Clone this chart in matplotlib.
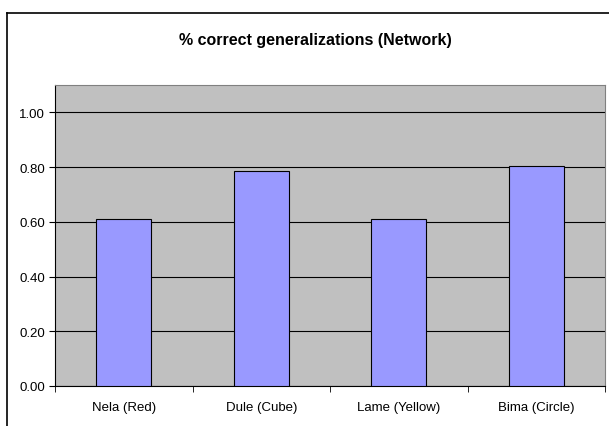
import matplotlib
matplotlib.use("Agg")
import matplotlib.pyplot as plt
from matplotlib.lines import Line2D
import numpy as np

categories = ["Nela (Red)", "Dule (Cube)", "Lame (Yellow)", "Bima (Circle)"]
values = [0.61, 0.787, 0.61, 0.805]
yticks = [0.0, 0.2, 0.4, 0.6, 0.8, 1.0]

plt.rcParams["font.family"] = ["Liberation Sans", "DejaVu Sans"]

W, H = 609, 427
fig = plt.figure(figsize=(W / 100, H / 100), dpi=100)
fig.patch.set_facecolor("white")

# outer chart border (cropped on the right and bottom in the original)
bx, by = 7 / W, 1 - 14 / H
fig.add_artist(Line2D([bx, bx], [0, by], transform=fig.transFigure, color="black", lw=1.2))
fig.add_artist(Line2D([bx, 1], [by, by], transform=fig.transFigure, color="black", lw=1.2))

ax = fig.add_axes([55 / W, 1 - 387 / H, 550 / W, 301 / H])
ax.set_facecolor("#c0c0c0")
x = np.arange(len(categories))
ax.bar(x, values, width=0.40, color="#9999ff", edgecolor="black", lw=0.8, zorder=3)
ax.set_xlim(-0.5, len(categories) - 0.5)
ax.set_ylim(0, 1.1)
ax.set_yticks(yticks)
ax.set_yticklabels([f"{v:.2f}" for v in yticks], fontsize=9.5)
ax.yaxis.grid(True, color="black", lw=0.8, zorder=1)
ax.set_axisbelow(True)

# categories centered, ticks at boundaries
ax.set_xticks(x)
ax.set_xticklabels(categories, fontsize=9.5)
ax.tick_params(axis="x", length=0, pad=11)
ax.set_xticks(np.arange(len(categories) + 1) - 0.5, minor=True)
ax.tick_params(axis="x", which="minor", length=4, color="black")
ax.tick_params(axis="y", length=4, color="black", pad=3)

for s in ["top", "right"]:
    ax.spines[s].set_color("#808080")
ax.spines["left"].set_color("black")
ax.spines["bottom"].set_color("black")

fig.text(315 / W, 1 - 41 / H, "% correct generalizations (Network)", ha="center", va="center",
         fontsize=11.5, fontweight="bold")

fig.savefig("out.png", dpi=100)
